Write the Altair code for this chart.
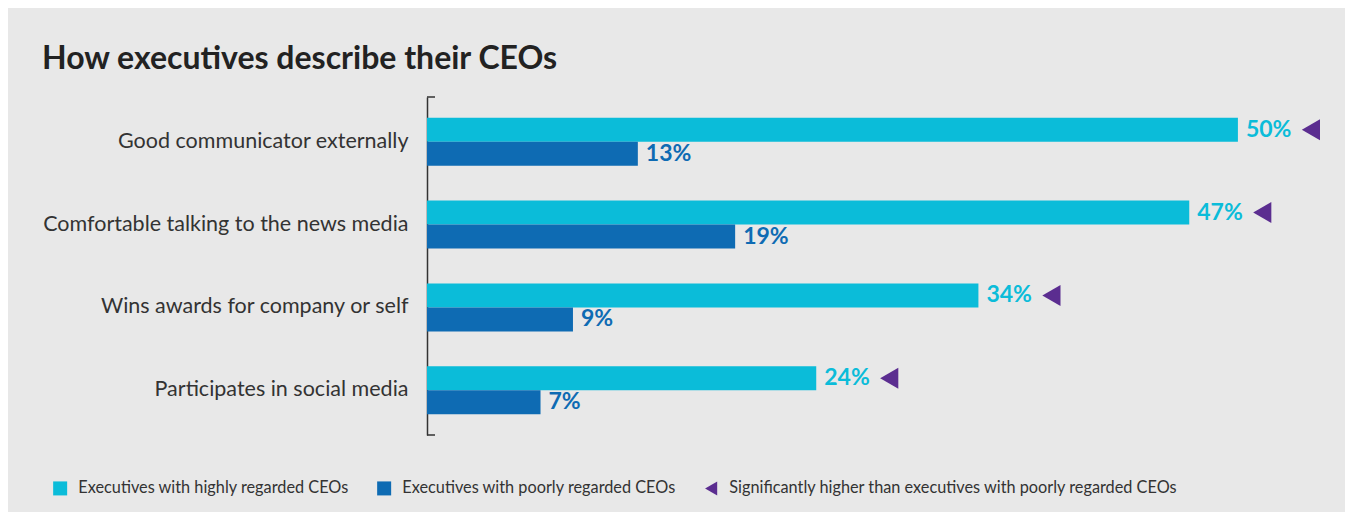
import altair as alt
import pandas as pd

categories = [
    "Good communicator externally",
    "Comfortable talking to the news media",
    "Wins awards for company or self",
    "Participates in social media",
]
high_values = [50, 47, 34, 24]
poor_values = [13, 19, 9, 7]
significant = [True, True, True, True]

KEY_HIGH = "Executives with highly regarded CEOs"
KEY_POOR = "Executives with poorly regarded CEOs"
KEY_SIG = "Significantly higher than executives with poorly regarded CEOs"
keys = [KEY_HIGH, KEY_POOR, KEY_SIG]

CYAN = "#0BBCD9"
BLUE = "#0E6BB3"
PURPLE = "#5B2D90"
TEXT = "#333333"
BG = "#e8e8e8"

rows = []
for c, h, p in zip(categories, high_values, poor_values):
    rows.append({"category": c, "grp": "high", "key": KEY_HIGH, "value": h})
    rows.append({"category": c, "grp": "poor", "key": KEY_POOR, "value": p})
bars_df = pd.DataFrame(rows)

sig_df = pd.DataFrame([
    {"category": c, "grp": "high", "key": KEY_SIG, "value": h}
    for c, h, s in zip(categories, high_values, significant) if s
])

y_enc = alt.Y(
    "category:N",
    sort=categories,
    title=None,
    scale=alt.Scale(paddingInner=0.42, paddingOuter=0.25),
    axis=alt.Axis(
        ticks=False, tickSize=0, labelPadding=19, labelFontSize=21.5,
        labelFont="Lato", labelColor=TEXT, domainColor=TEXT, domainWidth=1.5,
        labelLimit=500,
    ),
)
yoff = alt.YOffset("grp:N", sort=["high", "poor"], scale=alt.Scale(domain=["high", "poor"], paddingInner=0, paddingOuter=0))
x_enc = alt.X("value:Q", scale=alt.Scale(domain=[0, 55], nice=False, zero=True), axis=None, title=None)
color_enc = alt.Color(
    "key:N",
    scale=alt.Scale(domain=keys, range=[CYAN, BLUE, PURPLE]),
    title=None,
    legend=alt.Legend(
        orient="none", legendX=-375, legendY=383, direction="horizontal",
        labelFontSize=16.3, labelFont="Lato", labelColor=TEXT, symbolSize=196,
        labelOffset=10, columnPadding=27, symbolStrokeWidth=0, labelLimit=600,
    ),
)
shape_enc = alt.Shape(
    "key:N",
    scale=alt.Scale(domain=keys, range=["square", "square", "triangle-left"]),
    title=None,
)

bars = alt.Chart(bars_df).mark_bar(size=24).encode(
    y=y_enc, yOffset=yoff, x=x_enc, color=color_enc,
)

labels = alt.Chart(bars_df).transform_calculate(
    label="datum.value + '%'"
).mark_text(
    align="left", baseline="middle", dx=8, fontSize=23, fontWeight="bold", font="Lato"
).encode(
    y=y_enc, yOffset=yoff, x=x_enc, text="label:N", color=color_enc,
)

tris = alt.Chart(sig_df).mark_point(
    filled=True, size=440, xOffset=73, opacity=1
).encode(
    y=y_enc, yOffset=yoff, x=x_enc, color=color_enc, shape=shape_enc,
)

bracket_top = alt.Chart(pd.DataFrame({"a": [0]})).mark_rule(color=TEXT, strokeWidth=1.5).encode(
    x=alt.value(0), x2=alt.value(8), y=alt.value(0)
)
bracket_bot = alt.Chart(pd.DataFrame({"a": [0]})).mark_rule(color=TEXT, strokeWidth=1.5).encode(
    x=alt.value(0), x2=alt.value(8), y=alt.value({"expr": "height"})
)

chart = alt.layer(bars, labels, tris, bracket_top, bracket_bot).properties(
    width=892,
    height=338,
    title=alt.TitleParams(
        "How executives describe their CEOs",
        anchor="start", frame="group", dx=-385, dy=34, offset=29, baseline="alphabetic",
        fontSize=32, fontWeight="bold", font="Lato", color="#222222",
    ),
    autosize=alt.AutoSizeParams(type="none"),
    padding={"left": 419, "top": 89, "right": 26, "bottom": 77},
    background=BG,
).configure_view(stroke=None)

chart.save("out.html", embed_options={"renderer": "svg", "actions": False})
